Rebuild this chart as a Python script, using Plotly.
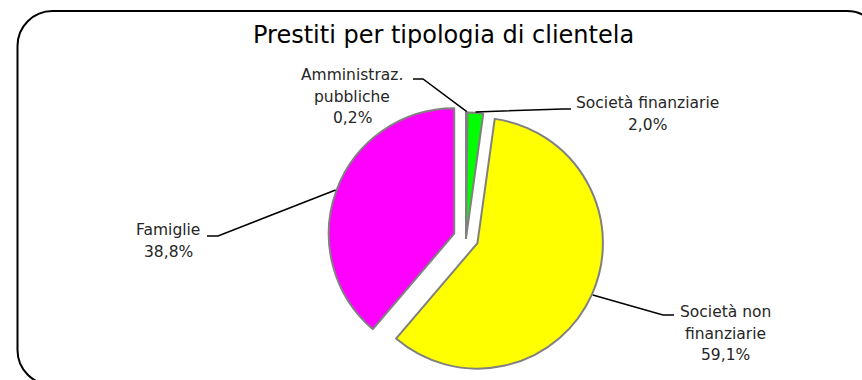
import math
import plotly.graph_objects as go

W, H = 862, 380

categories = ["Amministraz. pubbliche", "Società finanziarie", "Società non finanziarie", "Famiglie"]
values = [0.2, 2.0, 59.1, 38.8]
pct_labels = ["0,2%", "2,0%", "59,1%", "38,8%"]
label_lines = [["Amministraz.", "pubbliche"], ["Società finanziarie"], ["Società non", "finanziarie"], ["Famiglie"]]
colors = ["#A6A6A6", "#00FF00", "#FFFF00", "#FF00FF"]
pulls = [0, 0, 0.1, 0.1]

# layout helpers (pixel -> paper)
def px(x):
    return x / W

def py(y):
    return 1 - y / H

# pie box in pixels
box_cx, box_cy, box = 466, 238, 276
dom_x = [px(box_cx - box / 2), px(box_cx + box / 2)]
dom_y = [py(box_cy + box / 2), py(box_cy - box / 2)]

fig = go.Figure(go.Pie(
    labels=categories, values=values, sort=False, direction="clockwise", rotation=0,
    pull=pulls, textinfo="none", hoverinfo="label+percent",
    marker=dict(colors=colors, line=dict(color="#808080", width=2)),
    domain=dict(x=dom_x, y=dom_y), showlegend=False,
))

# geometry of slices (same as plotly's scaling) for leader lines
r = box / (2 + 2 * max(pulls))
total = sum(values)
cum = 0
starts = []
for v, p in zip(values, pulls):
    th = math.radians(360 * (cum + v / 2) / total)
    dx, dy = math.sin(th), -math.cos(th)
    scx, scy = box_cx + p * r * dx, box_cy + p * r * dy
    starts.append((scx + (r + 1) * dx, scy + (r + 1) * dy))
    cum += v

# label placement (text block centre x, first line centre y) and leader elbows
label_pos = [(352, 75), (647, 103), (725, 312), (168, 230)]
elbows = [((423, 79), (413, 79)), ((563, 109), (571, 109)), ((663, 315), (674, 315)), ((218, 236), (207, 236))]
line_gap = 21.5

shapes = []
annotations = []
for i in range(len(categories)):
    (sx, sy) = starts[i]
    (ex, ey), (fx, fy) = elbows[i]
    shapes.append(dict(type="path", xref="paper", yref="paper",
                       path=f"M {px(sx)} {py(sy)} L {px(ex)} {py(ey)} L {px(fx)} {py(fy)}",
                       line=dict(color="black", width=1.5)))
    lx, ly = label_pos[i]
    lines = label_lines[i] + [pct_labels[i]]
    for k, t in enumerate(lines):
        annotations.append(dict(text=t, x=px(lx), y=py(ly + k * line_gap), xref="paper", yref="paper",
                                showarrow=False, xanchor="center", yanchor="middle",
                                font=dict(family="DejaVu Sans", size=15.5, color="#262626")))

# title
annotations.append(dict(text="Prestiti per tipologia di clientela", x=px(444), y=py(35), xref="paper", yref="paper",
                        showarrow=False, xanchor="center", yanchor="middle",
                        font=dict(family="DejaVu Sans", size=24, color="#000000")))

# rounded chart border
x0, y0, x1, y1, rr = 17.5, 11, 882, 385, 35
k = 0.5523 * rr
def P(x, y):
    return f"{px(x)} {py(y)}"
border = (f"M {P(x0 + rr, y0)} L {P(x1 - rr, y0)} C {P(x1 - rr + k, y0)} {P(x1, y0 + rr - k)} {P(x1, y0 + rr)} "
          f"L {P(x1, y1 - rr)} C {P(x1, y1 - rr + k)} {P(x1 - rr + k, y1)} {P(x1 - rr, y1)} "
          f"L {P(x0 + rr, y1)} C {P(x0 + rr - k, y1)} {P(x0, y1 - rr + k)} {P(x0, y1 - rr)} "
          f"L {P(x0, y0 + rr)} C {P(x0, y0 + rr - k)} {P(x0 + rr - k, y0)} {P(x0 + rr, y0)} Z")
shapes.append(dict(type="path", xref="paper", yref="paper", path=border, layer="below",
                   line=dict(color="black", width=2)))

fig.update_layout(width=W, height=H, margin=dict(l=0, r=0, t=0, b=0),
                  paper_bgcolor="white", plot_bgcolor="white",
                  shapes=shapes, annotations=annotations)

fig.write_html("out.html")
